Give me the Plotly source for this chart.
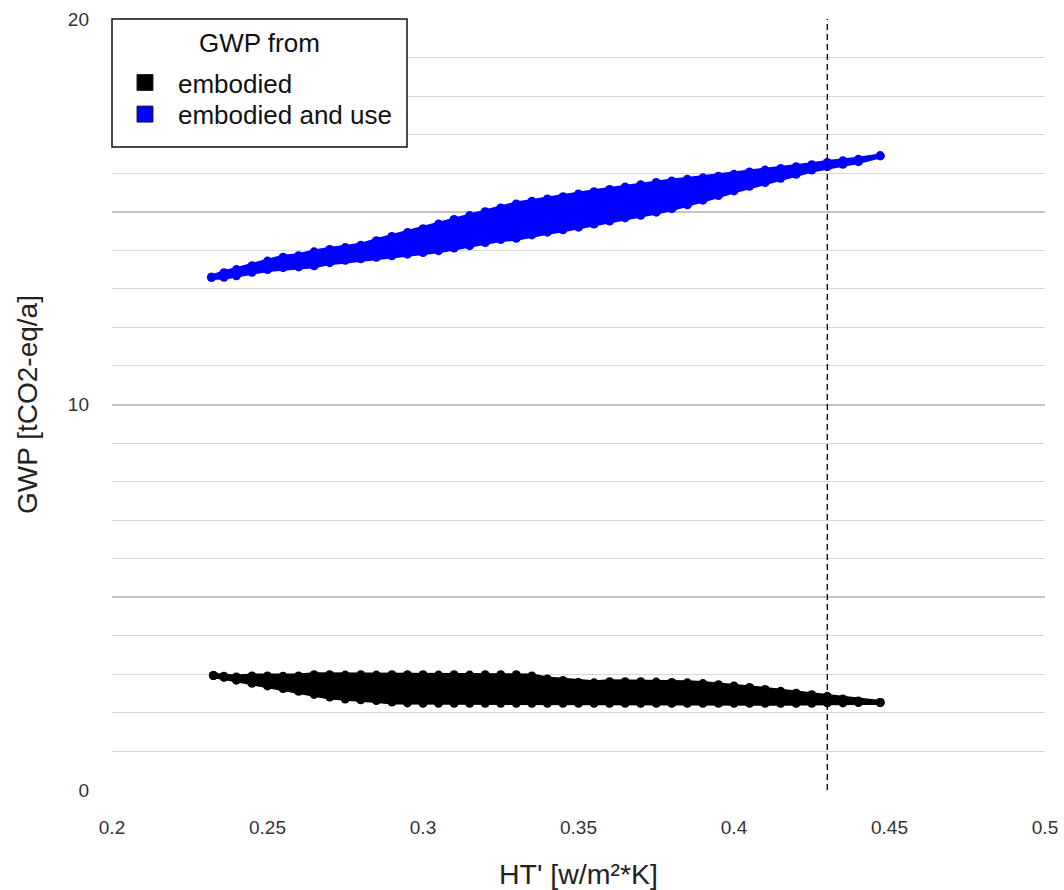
import plotly.graph_objects as go

# ---- data (band edges of the point clouds) ----
# embodied (black): HT' positions and lower / upper GWP edge of the cloud
emb_ht = [0.2326, 0.236, 0.240, 0.245, 0.250, 0.255, 0.260, 0.265, 0.270, 0.275,
          0.280, 0.285, 0.290, 0.295, 0.300, 0.305, 0.310, 0.315, 0.320, 0.325,
          0.330, 0.335, 0.340, 0.345, 0.350, 0.355, 0.360, 0.365, 0.370, 0.375,
          0.380, 0.385, 0.390, 0.395, 0.400, 0.405, 0.410, 0.415, 0.420, 0.425,
          0.430, 0.435, 0.440, 0.447]
emb_gwp_max = [2.97, 2.95, 2.93, 2.96, 2.96, 2.95, 2.96, 2.99, 2.99, 2.98,
               2.99, 2.98, 2.99, 2.99, 2.99, 2.98, 2.99, 2.98, 2.99, 2.99,
               2.99, 2.96, 2.88, 2.84, 2.79, 2.78, 2.81, 2.81, 2.81, 2.80,
               2.79, 2.78, 2.76, 2.73, 2.70, 2.66, 2.61, 2.56, 2.51, 2.47,
               2.43, 2.36, 2.31, 2.27]
emb_gwp_min = [2.97, 2.92, 2.85, 2.77, 2.70, 2.63, 2.56, 2.48, 2.41, 2.36,
               2.34, 2.32, 2.28, 2.26, 2.25, 2.25, 2.25, 2.25, 2.25, 2.25,
               2.25, 2.25, 2.25, 2.25, 2.25, 2.25, 2.25, 2.25, 2.25, 2.25,
               2.25, 2.25, 2.25, 2.25, 2.25, 2.25, 2.25, 2.25, 2.25, 2.25,
               2.26, 2.26, 2.27, 2.27]

# embodied and use (blue)
use_ht = [0.232, 0.236, 0.240, 0.245, 0.250, 0.255, 0.260, 0.265, 0.270, 0.275,
          0.280, 0.285, 0.290, 0.295, 0.300, 0.305, 0.310, 0.315, 0.320, 0.325,
          0.330, 0.335, 0.340, 0.345, 0.350, 0.355, 0.360, 0.365, 0.370, 0.375,
          0.380, 0.385, 0.390, 0.395, 0.400, 0.405, 0.410, 0.415, 0.420, 0.425,
          0.430, 0.435, 0.440, 0.447]
use_gwp_max = [13.30, 13.42, 13.50, 13.60, 13.72, 13.82, 13.86, 13.96, 14.02, 14.07,
               14.13, 14.25, 14.36, 14.46, 14.56, 14.68, 14.80, 14.90, 15.00, 15.10,
               15.20, 15.27, 15.33, 15.39, 15.46, 15.52, 15.58, 15.64, 15.70, 15.76,
               15.80, 15.84, 15.88, 15.92, 15.97, 16.03, 16.08, 16.12, 16.17, 16.22,
               16.28, 16.32, 16.36, 16.45]
use_gwp_min = [13.30, 13.30, 13.34, 13.43, 13.50, 13.55, 13.57, 13.60, 13.68, 13.74,
               13.78, 13.82, 13.86, 13.90, 13.94, 13.99, 14.06, 14.12, 14.20, 14.28,
               14.31, 14.40, 14.47, 14.53, 14.60, 14.68, 14.76, 14.84, 14.91, 14.99,
               15.08, 15.18, 15.30, 15.42, 15.54, 15.66, 15.76, 15.87, 15.97, 16.08,
               16.17, 16.23, 16.30, 16.45]

ht_limit = 0.43
x_ticks = [0.2, 0.25, 0.3, 0.35, 0.4, 0.45, 0.5]
x_tick_text = ["0.2", "0.25", "0.3", "0.35", "0.4", "0.45", "0.5"]
y_ticks = [0, 5, 10, 15, 20]
y_tick_text = ["0", "", "10", "", "20"]

series = [
    ("embodied", emb_ht, emb_gwp_min, emb_gwp_max, "#000000", "legend", 0.948),
    ("embodied and use", use_ht, use_gwp_min, use_gwp_max, "#0000ff", "legend2", 0.907),
]

FONT = "Liberation Sans, Arial, sans-serif"
fig = go.Figure()

for name, ht, lo, hi, col, leg, ly in series:
    xs = list(ht) + list(reversed(ht))
    ys = list(hi) + list(reversed(lo))
    fig.add_trace(go.Scatter(
        x=xs, y=ys, mode="lines+markers", fill="toself", fillcolor=col,
        line=dict(color=col, width=5), marker=dict(color=col, size=9),
        showlegend=False, hoverinfo="skip"))

for name, ht, lo, hi, col, leg, ly in series:
    fig.add_trace(go.Scatter(
        x=[None], y=[None], mode="markers", name=name, legend=leg,
        marker=dict(symbol="square", size=16, color=col,
                    line=dict(color="#222222", width=1))))

fig.add_shape(type="line", xref="x", yref="y", x0=ht_limit, x1=ht_limit,
              y0=0, y1=20, line=dict(color="#000000", width=1.3, dash="6px,4px"))

# legend frame and title
fig.add_shape(type="rect", xref="paper", yref="paper", x0=0, x1=0.3162,
              y0=0.834, y1=1.0, layer="above", fillcolor="white",
              line=dict(color="#111111", width=1.5))
fig.add_annotation(text="GWP from", xref="paper", yref="paper", x=0.158, y=0.969,
                   xanchor="center", yanchor="middle", showarrow=False,
                   font=dict(size=26, family=FONT, color="#111111"))

legend_style = dict(x=0, xanchor="left", yanchor="top",
                    bgcolor="rgba(0,0,0,0)", borderwidth=0,
                    font=dict(size=26, family=FONT, color="#111111"),
                    itemwidth=56, tracegroupgap=0)

fig.update_layout(
    width=1064, height=890,
    margin=dict(l=112, r=19, t=19, b=100),
    paper_bgcolor="white", plot_bgcolor="white",
    font=dict(family=FONT, color="#222222"),
    showlegend=True,
    legend=dict(y=series[0][6], **legend_style),
    legend2=dict(y=series[1][6], **legend_style),
    xaxis=dict(
        range=[0.2, 0.5], tickmode="array", tickvals=x_ticks, ticktext=x_tick_text,
        showgrid=False, zeroline=False, showline=False, ticks="", automargin=False,
        tickfont=dict(size=19, family=FONT, color="#333333"),
        ticklabelstandoff=24,
        title=dict(text="HT' [w/m²*K]", font=dict(size=28.5, family=FONT, color="#222222"),
                   standoff=27),
    ),
    yaxis=dict(
        range=[0, 20], tickmode="array", tickvals=y_ticks, ticktext=y_tick_text,
        showgrid=True, gridcolor="#c4c4c4", gridwidth=2, automargin=False,
        zeroline=False, showline=False, ticks="",
        minor=dict(dtick=1, tick0=0, showgrid=True, gridcolor="#d7d7d7", gridwidth=1.3),
        tickfont=dict(size=19, family=FONT, color="#333333"),
        ticklabelstandoff=22,
        title=dict(text="GWP [tCO2-eq/a]", font=dict(size=28, family=FONT, color="#222222"),
                   standoff=22),
    ),
)

fig.write_html("out.html")
